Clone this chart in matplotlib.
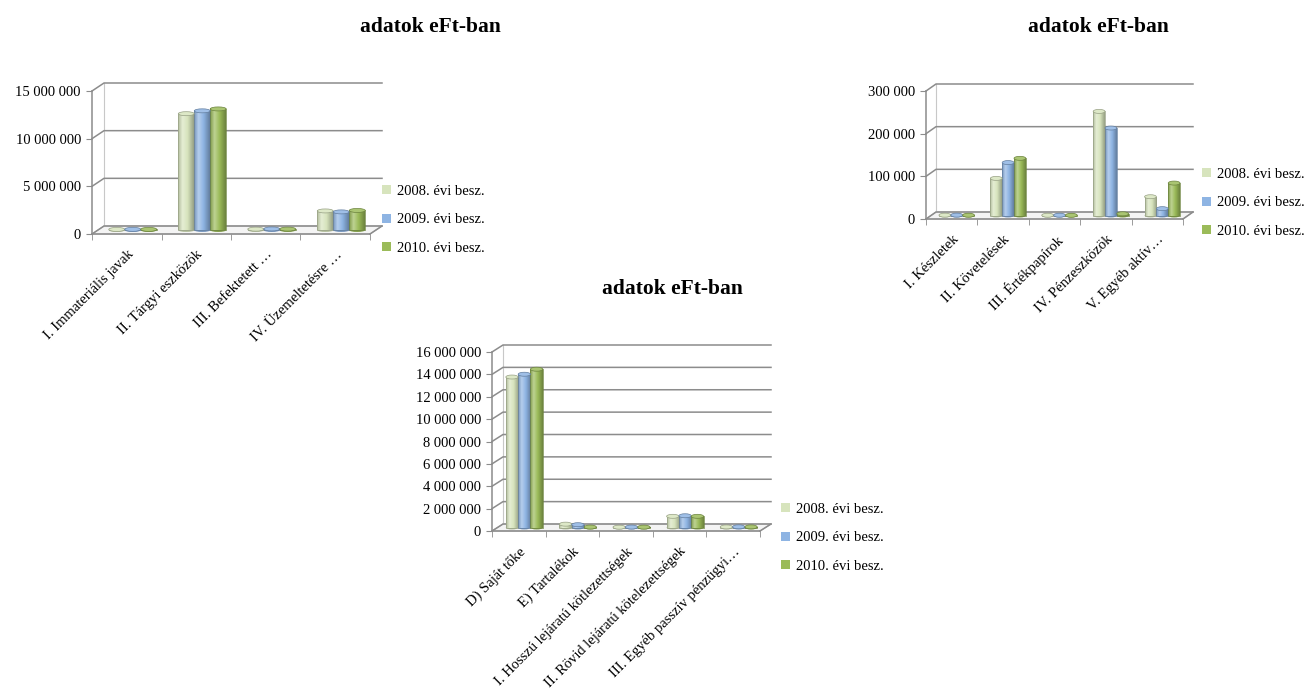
import numpy as np
import matplotlib.pyplot as plt
from matplotlib.colors import LinearSegmentedColormap, to_rgb
from matplotlib.patches import Ellipse, Polygon, Rectangle, Patch

plt.rcParams['font.family'] = ['Liberation Serif', 'DejaVu Serif']

series = ['2008. évi besz.', '2009. évi besz.', '2010. évi besz.']
colors = ['#D7E4BD', '#8EB4E3', '#9BBB59']

# befektetett eszközök
cat1 = ['I. Immateriális javak', 'II. Tárgyi eszközök', 'III. Befektetett …',
        'IV. Üzemeltetésre …']
v1_2008 = [60000, 12200000, 90000, 2000000]
v1_2009 = [70000, 12500000, 110000, 1900000]
v1_2010 = [65000, 12700000, 95000, 2050000]

# forgóeszközök
cat2 = ['I. Készletek', 'II. Követelések', 'III. Értékpapírok',
        'IV. Pénzeszközök', 'V. Egyéb aktív…']
v2_2008 = [800, 87000, 600, 244000, 44000]
v2_2009 = [900, 124000, 700, 205000, 16000]
v2_2010 = [700, 134000, 500, 4000, 76000]

# források
cat3 = ['D) Saját tőke', 'E) Tartalékok', 'I. Hosszú lejáratú kötlezettségek',
        'II. Rövid lejáratú kötelezettségek', 'III. Egyéb passzív pénzügyi…']
v3_2008 = [13450000, 300000, 30000, 1000000, 50000]
v3_2009 = [13700000, 250000, 40000, 1050000, 60000]
v3_2010 = [14150000, 40000, 35000, 1000000, 55000]

W, H = 1312, 696
fig = plt.figure(figsize=(W / 100, H / 100), dpi=100)
GRID = '#8c8c8c'


def mix(c, other, t):
    c = np.array(to_rgb(c))
    o = np.array(to_rgb(other))
    return tuple(c * (1 - t) + o * t)


def fmt(v):
    return f'{int(v):,}'.replace(',', ' ')


def chart(left, right, y0, ytop, ymax, step, cats, values, dx, dy,
          title, title_xy, legend_xy):
    ax = fig.add_axes([left / W, 1 - y0 / H, (right - left) / W, (y0 - ytop) / H])
    n = len(cats)
    ax.set_xlim(0, n)
    ax.set_ylim(0, ymax)
    ppx = (right - left) / n
    ppy = (y0 - ytop) / ymax
    ox, oy = dx / ppx, dy / ppy

    # floor
    ax.add_patch(Polygon([(0, 0), (n, 0), (n + ox, oy), (ox, oy)], closed=True,
                         facecolor='#f4f4f4', edgecolor='#b0b0b0', lw=0.8,
                         zorder=1, clip_on=False))
    # walls and gridlines
    ticks = np.arange(0, ymax + step / 2, step)
    for v in ticks:
        ax.plot([0, ox, n + ox], [v, v + oy, v + oy], color=GRID, lw=1.1,
                zorder=1.5, clip_on=False)
    ax.plot([ox, ox], [oy, ymax + oy], color='#c8c8c8', lw=0.8, zorder=1.4,
            clip_on=False)

    # bars
    bw = 0.23
    for k, (vals, col) in enumerate(zip(values, colors)):
        cmap = LinearSegmentedColormap.from_list(
            f's{k}', [(0, mix(col, 'black', 0.18)), (0.28, mix(col, 'white', 0.35)),
                      (0.6, col), (1, mix(col, 'black', 0.3))])
        grad = np.linspace(0, 1, 64).reshape(1, -1)
        for i, v in enumerate(vals):
            xc = i + 0.5 + (k - 1) * bw + ox / 2
            b = oy / 2
            eh = 4 / ppy
            ax.add_patch(Ellipse((xc, b), bw, eh, facecolor=mix(col, 'black', 0.15),
                                 edgecolor='none', zorder=3 + i * 0.1, clip_on=False))
            ax.imshow(grad, cmap=cmap, extent=[xc - bw / 2, xc + bw / 2, b, b + v],
                      aspect='auto', zorder=3 + i * 0.1 + 0.01, interpolation='bilinear')
            ax.add_patch(Rectangle((xc - bw / 2, b), bw, v, fill=False,
                                   edgecolor=mix(col, 'black', 0.3), lw=0.5,
                                   zorder=3 + i * 0.1 + 0.02))
            ax.add_patch(Ellipse((xc, b + v), bw, eh, facecolor=mix(col, 'white', 0.15),
                                 edgecolor=mix(col, 'black', 0.3), lw=0.5,
                                 zorder=3 + i * 0.1 + 0.03, clip_on=False))
    ax.set_xlim(0, n)
    ax.set_ylim(0, ymax)

    for s in ['top', 'right']:
        ax.spines[s].set_visible(False)
    for s in ['left', 'bottom']:
        ax.spines[s].set_color(GRID)
        ax.spines[s].set_linewidth(1.1)
    ax.plot([n, n + ox], [0, oy], color=GRID, lw=1.1, clip_on=False, zorder=1.6)

    ax.set_yticks(ticks, [fmt(t) for t in ticks], fontsize=10.5)
    ax.tick_params(axis='y', length=4, color=GRID, pad=4)
    ax.set_xticks(np.arange(n) + 0.5, cats, rotation=45, ha='right',
                  rotation_mode='anchor', fontsize=10.5)
    ax.set_xticks(np.arange(n + 1), minor=True)
    ax.tick_params(axis='x', which='major', length=0, pad=10)
    ax.tick_params(axis='x', which='minor', length=4, color=GRID)

    fig.text(title_xy[0] / W, 1 - title_xy[1] / H, title, ha='center', va='center',
             fontsize=15.5, fontweight='bold')
    handles = [Patch(facecolor=c, edgecolor='none') for c in colors]
    fig.legend(handles, series, loc='upper left',
               bbox_to_anchor=(legend_xy[0] / W, 1 - legend_xy[1] / H),
               frameon=False, fontsize=10.5, handlelength=0.6, handleheight=0.6,
               handletextpad=0.4, labelspacing=1.05, borderaxespad=0, borderpad=0)


chart(92, 370, 234, 91, 15000000, 5000000, cat1, [v1_2008, v1_2009, v1_2010],
      12, 8, 'adatok eFt-ban', (430, 27), (382, 185))
chart(926, 1183, 219, 91, 300000, 100000, cat2, [v2_2008, v2_2009, v2_2010],
      10, 7, 'adatok eFt-ban', (1098, 27), (1202, 168))
chart(492, 760, 531, 352, 16000000, 2000000, cat3, [v3_2008, v3_2009, v3_2010],
      11, 7, 'adatok eFt-ban', (672, 289), (781, 503))

fig.savefig('out.png', dpi=100)
